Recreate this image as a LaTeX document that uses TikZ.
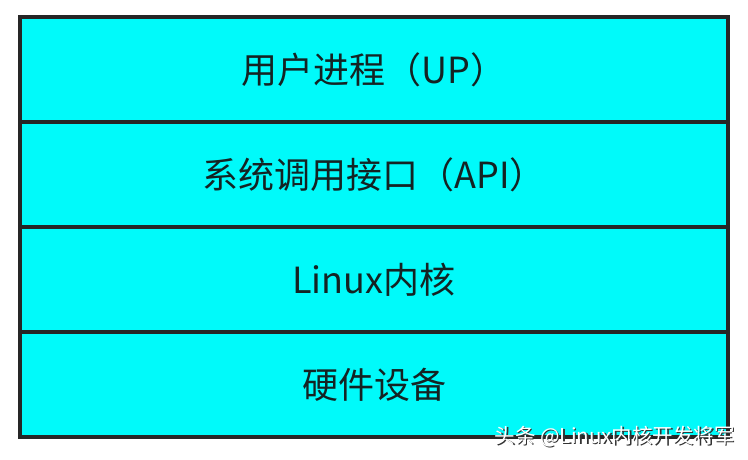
\documentclass[tikz,border=0pt]{standalone}
\usepackage{fontspec}
\newfontfamily\cjk{Noto Sans CJK SC}
\usetikzlibrary{positioning}
\definecolor{layercyan}{RGB}{0,250,250}
\definecolor{textdark}{RGB}{20,35,35}
\tikzstyle{layer} = [rectangle, draw=black!85, line width=3.6pt, fill=layercyan, outer sep=0pt, minimum width=708pt, minimum height=105pt, text centered, text=textdark, font=\cjk\fontsize{36pt}{40pt}\selectfont]
\tikzstyle{watermark} = [font=\cjk\fontsize{20.5pt}{24pt}\selectfont, inner sep=0pt, anchor=south east]

\begin{document}
\begin{tikzpicture}
\useasboundingbox (0,0) rectangle (748pt,-460pt);
\fill[white] (0,0) rectangle (748pt,-460pt);

\node (up) [layer, anchor=north] at (374pt,-17pt) {用户进程（UP）};
\node (api) [layer, below=0pt of up] {系统调用接口（API）};
\node (kernel) [layer, below=0pt of api] {Linux内核};
\node (hw) [layer, below=0pt of kernel] {硬件设备};

\node (markshadow) [watermark, text=black!80] at (736.5pt,-448.5pt) {头条 @Linux内核开发将军};
\node (marktext) [watermark, text=white] at (735pt,-447pt) {头条 @Linux内核开发将军};

\end{tikzpicture}
\end{document}
